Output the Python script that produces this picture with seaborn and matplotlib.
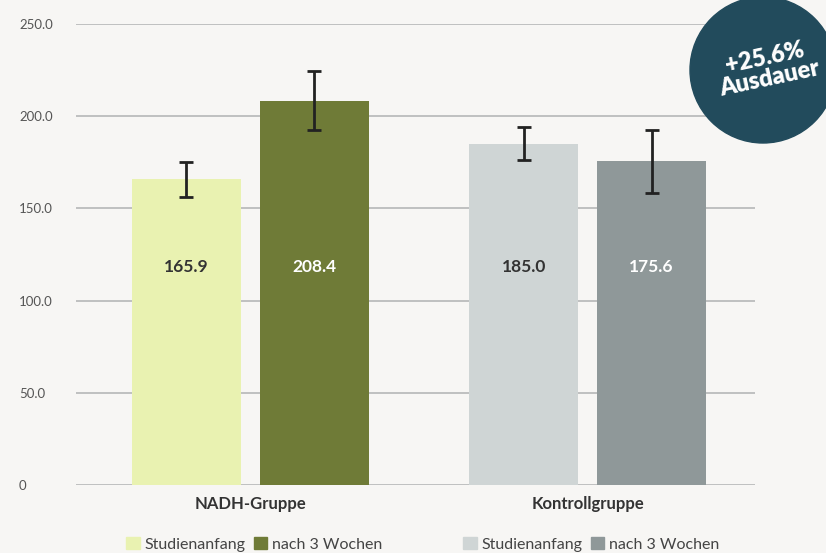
import pandas as pd
import matplotlib.pyplot as plt
import seaborn as sns
from matplotlib.patches import Ellipse, Patch

# Daten
gruppen = ['NADH-Gruppe', 'NADH-Gruppe', 'Kontrollgruppe', 'Kontrollgruppe']
zeitpunkte = ['Studienanfang', 'nach 3 Wochen', 'Studienanfang', 'nach 3 Wochen']
werte = [165.9, 208.4, 185.0, 175.6]
fehler = [9.5, 16.0, 9.0, 17.0]
farben = ['#e9f2b1', '#6f7b37', '#cfd5d5', '#8f9899']
text_farben = ['#333333', '#ffffff', '#333333', '#ffffff']
y_ticks = [0, 50, 100, 150, 200, 250]
y_tick_labels = ['0', '50.0', '100.0', '150.0', '200.0', '250.0']

df = pd.DataFrame({'gruppe': gruppen, 'zeit': zeitpunkte, 'wert': werte})

sns.set_theme(style='white')
plt.rcParams['font.family'] = ['Lato', 'DejaVu Sans']

bg = '#f7f6f4'
fig = plt.figure(figsize=(8.26, 5.53), dpi=100, facecolor=bg)
ax = fig.add_axes([0.092, 0.123, 0.822, 0.8336])
ax.set_facecolor(bg)

sns.barplot(data=df, x='gruppe', y='wert', hue='zeit', width=0.758, gap=0.148,
            legend=False, ax=ax, errorbar=None)

# Farben und Fehlerbalken pro Balken
balken = [p for p in ax.patches if p.get_height() > 0]
balken.sort(key=lambda p: p.get_x())
for p, f, w, e, tf in zip(balken, farben, werte, fehler, text_farben):
    p.set_facecolor(f)
    p.set_edgecolor('none')
    xc = p.get_x() + p.get_width() / 2
    ax.errorbar(xc, w, yerr=e, color='#222222', capsize=5, capthick=2,
                elinewidth=2, zorder=5)
    ax.text(xc, 118, f'{w:.1f}', ha='center', va='center', color=tf,
            fontsize=12.5, fontweight='bold')

ax.set_ylim(0, 250)
ax.set_xlim(-0.516, 1.496)
ax.set_yticks(y_ticks)
ax.set_yticklabels(y_tick_labels, ha='left')
ax.tick_params(axis='y', length=0, pad=41, labelsize=9.5, labelcolor='#555555')
ax.tick_params(axis='x', length=0, pad=8, labelsize=12, labelcolor='#333333')
for lbl in ax.get_xticklabels():
    lbl.set_fontweight('bold')
ax.grid(axis='y', color='#b5b7b7', linewidth=1.2)
ax.set_axisbelow(True)
ax.set_xlabel('')
ax.set_ylabel('')
for s in ax.spines.values():
    s.set_visible(False)

# Legenden unter den Gruppen
for i, cx in enumerate([0.308, 0.716]):
    handles = [Patch(color=farben[2 * i], label='Studienanfang'),
               Patch(color=farben[2 * i + 1], label='nach 3 Wochen')]
    fig.legend(handles=handles, loc='center', bbox_to_anchor=(cx, 0.016),
               ncol=2, frameon=False, handlelength=0.85, handleheight=0.85,
               handletextpad=0.3, columnspacing=0.5, fontsize=11.5,
               labelcolor='#444444')

# Kreis-Badge
fig.add_artist(Ellipse((763 / 826, 1 - 70 / 553), 146 / 826, 146 / 553,
                       transform=fig.transFigure, color='#224b5c', zorder=10))
fig.text(767 / 826, 1 - 68 / 553, '+25.6%\nAusdauer', ha='center', va='center',
         rotation=12, color='white', fontsize=17, fontweight='heavy',
         linespacing=0.95, zorder=11)

fig.savefig('out.png', dpi=100, facecolor=bg)
